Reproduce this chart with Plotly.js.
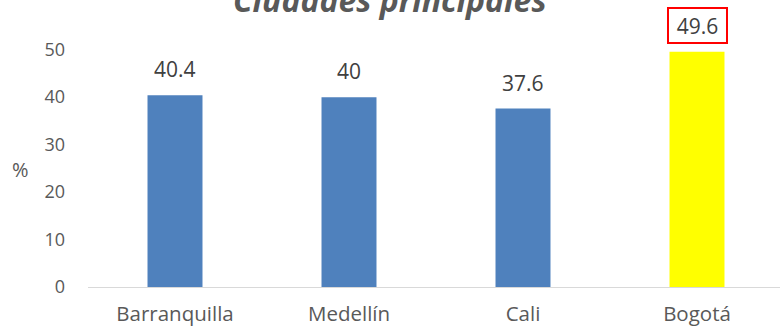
<!DOCTYPE html>
<html>
<head>
<meta charset="utf-8">
<script src="https://cdn.plot.ly/plotly-3.0.1.min.js"></script>
<style>html,body{margin:0;padding:0;background:#fff;overflow:hidden}#chart{width:780px;height:329px}</style>
</head>
<body>
<div id="chart"></div>
<script>
const categories = ["Barranquilla", "Medellín", "Cali", "Bogotá"];
const values = [40.4, 40, 37.6, 49.6];
const barColors = ["#4f81bd", "#4f81bd", "#4f81bd", "#ffff00"];
const valueLabels = ["40.4", "40", "37.6", "49.6"];
const yTicks = [0, 10, 20, 30, 40, 50];
const titleText = "Ciudades principales";
const yTitle = "%";

const font = "Open Sans, Liberation Sans, sans-serif";
const annotations = categories.map((c, i) => {
  const hi = i === 3;
  const a = {
    x: c, y: values[i], xref: "x", yref: "y",
    text: valueLabels[i], showarrow: false,
    yanchor: "middle", yshift: 26,
    font: {family: font, size: 21, color: "#404040"}
  };
  if (hi) {
    a.bordercolor = "#ff0000";
    a.borderwidth = 2;
    a.borderpad = 1;
    a.width = 55;
    a.height = 31;
  }
  return a;
});
annotations.push({
  x: (20 - 88) / (780 - 88), xref: "paper",
  y: (287 - 169) / 261, yref: "paper", showarrow: false,
  text: yTitle, xanchor: "center", yanchor: "middle",
  font: {family: font, size: 20, color: "#595959"}
});
// chart title (partly outside the top edge, as in the reference)
annotations.push({
  x: (390 - 88) / (780 - 88), xref: "paper",
  y: (287 + 1) / 261, yref: "paper", showarrow: false,
  text: "<b><i>" + titleText + "</i></b>", xanchor: "center", yanchor: "middle",
  font: {family: font, size: 32, color: "#595959"}
});

const data = [{
  type: "bar",
  x: categories,
  y: values,
  marker: {color: barColors},
  width: 0.316,
  hoverinfo: "none"
}];

const layout = {
  width: 780, height: 329,
  margin: {l: 88, r: 0, t: 26, b: 42},
  paper_bgcolor: "#fff", plot_bgcolor: "#fff",
  showlegend: false,
  xaxis: {
    type: "category",
    range: [-0.5, 3.477],
    showline: true, linecolor: "#d9d9d9", linewidth: 1,
    showgrid: false, zeroline: false, ticks: "",
    ticklabelstandoff: 8,
    tickfont: {family: font, size: 20.5, color: "#595959"}
  },
  yaxis: {
    range: [0, 55],
    tickvals: yTicks,
    ticktext: yTicks.map(String),
    showline: false, showgrid: false, zeroline: false, ticks: "",
    ticklabelstandoff: 22,
    tickfont: {family: font, size: 18, color: "#595959"}
  },
  annotations: annotations
};

Plotly.newPlot("chart", data, layout, {staticPlot: true, displayModeBar: false});
</script>
</body>
</html>
